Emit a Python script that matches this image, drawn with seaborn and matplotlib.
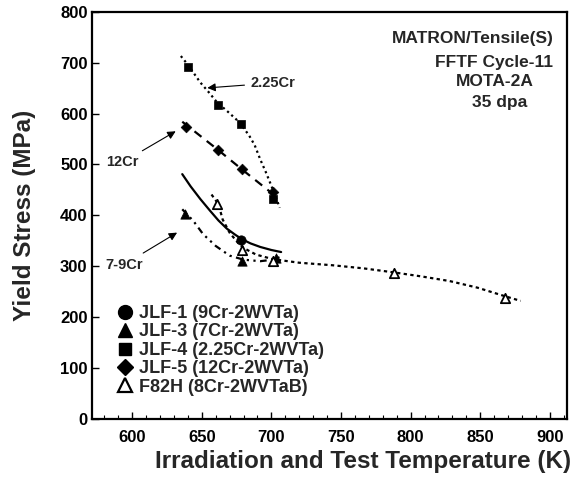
import matplotlib
matplotlib.use("Agg")
import matplotlib.pyplot as plt
from matplotlib.lines import Line2D
import seaborn as sns

# ---- data points ----
jlf1_x = [678]
jlf1_y = [352]
jlf3_x = [638, 679, 703]
jlf3_y = [403, 311, 316]
jlf4_x = [640, 662, 678, 701]
jlf4_y = [692, 617, 580, 432]
jlf5_x = [639, 662, 679, 701]
jlf5_y = [573, 528, 491, 445]
f82h_x = [661, 679, 701, 788, 868]
f82h_y = [423, 332, 311, 287, 238]

# ---- fitted curves ----
c225_x = [635, 640, 649, 655, 661, 669, 677, 684, 688, 692, 696, 700, 703, 706]
c225_y = [713, 696, 661, 642, 622, 603, 583, 557, 538, 510, 485, 458, 437, 415]
c12_x = [636, 662, 679, 702]
c12_y = [584, 528, 490, 440]
c9_x = [636, 642, 649, 656, 662, 668, 674, 679, 685, 692, 700, 707]
c9_y = [481, 457, 432, 409, 390, 374, 362, 353, 345, 338, 332, 328]
c7_x = [636, 644, 651, 660, 670, 680, 692, 701, 707]
c7_y = [412, 389, 363, 340, 321, 313, 310, 313, 319]
cf_x = [657, 662, 665, 670, 676, 680, 689, 701, 720, 744, 766, 788, 808, 828, 848, 868, 879]
cf_y = [441, 422, 392, 366, 346, 336, 323, 314, 307, 302, 296, 288, 280, 271, 258, 241, 232]

legend_labels = ["JLF-1 (9Cr-2WVTa)", "JLF-3 (7Cr-2WVTa)", "JLF-4 (2.25Cr-2WVTa)",
                 "JLF-5 (12Cr-2WVTa)", "F82H (8Cr-2WVTaB)"]
info_lines = ["MATRON/Tensile(S)", "FFTF Cycle-11", "MOTA-2A", "35 dpa"]

sns.set_theme(style="ticks")
plt.rcParams["font.family"] = ["Liberation Sans", "DejaVu Sans"]
plt.rcParams["font.weight"] = "bold"

fig = plt.figure(figsize=(5.77, 4.78), dpi=100)
ax = fig.add_axes([0.159, 0.1234, 0.823, 0.852])

lw = 1.6
sns.lineplot(x=c225_x, y=c225_y, ax=ax, color="black", lw=lw, linestyle=(0, (1, 1.5)), sort=False)
sns.lineplot(x=c12_x, y=c12_y, ax=ax, color="black", lw=lw, linestyle=(0, (4, 3)), sort=False)
sns.lineplot(x=c9_x, y=c9_y, ax=ax, color="black", lw=lw, linestyle="-", sort=False)
sns.lineplot(x=c7_x, y=c7_y, ax=ax, color="black", lw=lw, linestyle=(0, (3, 2, 1, 2, 1, 2)), sort=False)
sns.lineplot(x=cf_x, y=cf_y, ax=ax, color="black", lw=lw, linestyle=(0, (1.5, 1.5)), sort=False)

ms = 45
sns.scatterplot(x=jlf1_x, y=jlf1_y, ax=ax, marker="o", color="black", s=ms, edgecolor="black", zorder=5)
sns.scatterplot(x=jlf3_x, y=jlf3_y, ax=ax, marker="^", color="black", s=ms, edgecolor="black", zorder=5)
sns.scatterplot(x=jlf4_x, y=jlf4_y, ax=ax, marker="s", color="black", s=38, edgecolor="black", zorder=5)
sns.scatterplot(x=jlf5_x, y=jlf5_y, ax=ax, marker="D", color="black", s=30, edgecolor="black", zorder=5)
ax.scatter(f82h_x, f82h_y, marker="^", s=ms, facecolor="white", edgecolor="black", linewidth=1.3, zorder=6)

ax.set_xlim(571, 912)
ax.set_ylim(0, 800)
ax.set_xticks(range(600, 901, 50))
ax.set_xticks(range(580, 911, 10), minor=True)
ax.set_yticks(range(0, 801, 100))
for s in ax.spines.values():
    s.set_visible(True)
    s.set_linewidth(1.6)
    s.set_color("black")
ax.tick_params(axis="both", which="major", direction="in", length=5, width=1, labelsize=12,
               colors="black", top=False, right=False)
ax.tick_params(axis="x", which="major", pad=8)
ax.tick_params(axis="y", which="major", pad=3)
ax.tick_params(axis="x", which="minor", direction="in", length=3, width=0.8, colors="black")
for lab in ax.get_xticklabels() + ax.get_yticklabels():
    lab.set_fontweight("bold")

ax.set_xlabel("Irradiation and Test Temperature (K)", fontsize=17.5, fontweight="bold")
ax.xaxis.set_label_coords(0.571, -0.076)
ax.set_ylabel("Yield Stress (MPa)", fontsize=17.5, fontweight="bold", labelpad=17)

# annotations
akw = dict(arrowstyle="-|>", color="black", lw=0.8, mutation_scale=12)
ax.annotate("2.25Cr", xy=(652, 650), xytext=(685, 660), fontsize=10.5, fontweight="bold",
            ha="left", va="center", arrowprops=akw)
ax.annotate("12Cr", xy=(633, 568), xytext=(593, 504), fontsize=10.5, fontweight="bold",
            ha="center", va="center", arrowprops=akw)
ax.annotate("7-9Cr", xy=(634, 369), xytext=(594, 303), fontsize=10.5, fontweight="bold",
            ha="center", va="center", arrowprops=akw)

ys = [38, 62, 82, 102]
xs = [473, 494, 495, 500]
for t, px, py in zip(info_lines, xs, ys):
    fig.text(px / 577, 1 - py / 478, t, fontsize=12.5, fontweight="bold", ha="center", va="center")

handles = [
    Line2D([], [], marker="o", color="black", linestyle="none", markersize=10),
    Line2D([], [], marker="^", color="black", linestyle="none", markersize=10),
    Line2D([], [], marker="s", color="black", linestyle="none", markersize=9),
    Line2D([], [], marker="D", color="black", linestyle="none", markersize=8),
    Line2D([], [], marker="^", markerfacecolor="white", markeredgecolor="black",
           markeredgewidth=1.6, linestyle="none", markersize=10),
]
leg = ax.legend(handles, legend_labels, loc="upper left",
                bbox_to_anchor=(116 / 577, 1 - 305 / 478), bbox_transform=fig.transFigure,
                frameon=False, handlelength=1.0, handletextpad=0.25, labelspacing=0.08,
                borderpad=0, borderaxespad=0, prop={"size": 13, "weight": "bold"})

fig.savefig("out.png", dpi=100)
